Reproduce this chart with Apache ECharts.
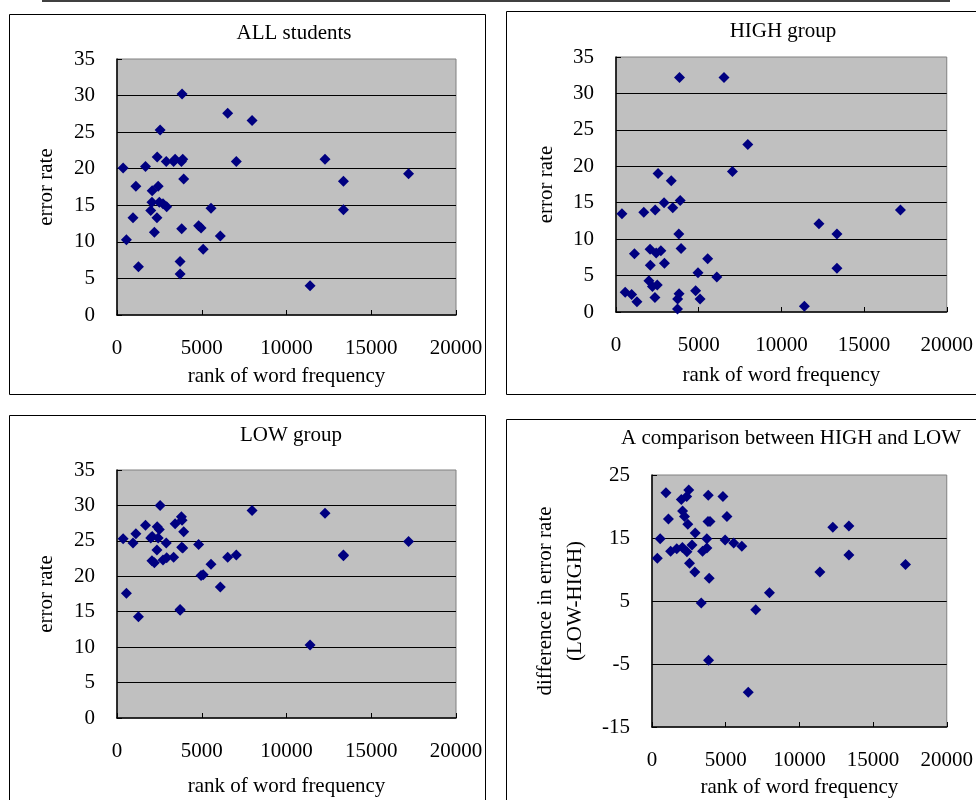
<!DOCTYPE html>
<html>
<head>
<meta charset="utf-8">
<title>error rate vs rank of word frequency</title>
<script src="https://cdn.jsdelivr.net/npm/echarts@6.0.0/dist/echarts.min.js"></script>
<style>
  html, body { margin: 0; padding: 0; background: #fff; }
  #chart { width: 976px; height: 800px; }
</style>
</head>
<body>
<div id="chart"></div>
<script>
// rank of word frequency, shared by all four panels
const rankFreq = [360, 555, 945, 1115, 1265, 1680, 1990, 2060, 2075, 2205, 2355, 2370, 2430, 2495, 2545, 2715,
  2905, 2930, 3340, 3430, 3720, 3725, 3800, 3815, 3840, 3880, 3935, 4815, 4960, 5085, 5545, 6095, 6530, 7040,
  7970, 11390, 12270, 13360, 13360, 17200];
// error rate, all students
const allRate = [20.1, 10.3, 13.3, 17.6, 6.6, 20.3, 14.3, 15.4, 17.0, 11.3, 13.3, 21.6, 17.6, 15.4, 25.3, 15.2,
  21.0, 14.8, 21.0, 21.3, 7.3, 5.6, 21.0, 11.8, 30.2, 21.3, 18.6, 12.2, 11.9, 9.0, 14.6, 10.8, 27.6, 21.0,
  26.6, 4.0, 21.3, 14.4, 18.3, 19.3];
// error rate, HIGH group
const highRate = [13.5, 2.7, 2.4, 8.0, 1.4, 13.7, 4.3, 8.6, 6.4, 3.5, 2.0, 14.0, 8.1, 3.7, 19.0, 8.4,
  15.0, 6.7, 18.0, 14.3, 0.4, 1.8, 10.7, 2.5, 32.2, 15.3, 8.7, 2.9, 5.4, 1.8, 7.3, 4.8, 32.2, 19.3,
  23.0, 0.8, 12.1, 6.0, 10.7, 14.0];
// error rate, LOW group
const lowRate = [25.3, 17.6, 24.7, 26.0, 14.3, 27.2, 25.4, 22.2, 25.6, 21.9, 23.7, 27.0, 25.4, 26.6, 30.0, 22.3,
  24.7, 22.6, 22.7, 27.4, 15.3, 15.2, 28.4, 24.1, 27.9, 24.0, 26.3, 24.5, 20.1, 20.2, 21.7, 18.5, 22.7, 23.0,
  29.3, 10.3, 28.9, 22.9, 23.0, 24.9];
// difference in error rate (LOW-HIGH)
const diffRate = [11.8, 14.9, 22.2, 18.0, 12.9, 13.3, 21.1, 13.5, 19.3, 18.4, 21.6, 12.8, 17.2, 22.6, 11.0, 13.9,
  9.6, 15.8, 4.7, 12.9, 14.9, 13.4, 17.6, 21.8, -4.4, 8.6, 17.6, 21.6, 14.7, 18.4, 14.2, 13.7, -9.5, 3.6,
  6.3, 9.6, 16.7, 16.9, 12.3, 10.8];

const panelTitles = ['ALL students', 'HIGH group', 'LOW group', 'A comparison between HIGH and LOW'];
const yNames = ['error rate', 'error rate', 'error rate', 'difference in error rate\n(LOW-HIGH)'];
const xName = 'rank of word frequency';

const FONT = 'Liberation Serif';
const FS = 21;

// plot areas
const grids = [
  { left: 117, top: 59, width: 339, height: 256 },
  { left: 616, top: 57, width: 337, height: 255 },
  { left: 117, top: 470, width: 339, height: 248 },
  { left: 652, top: 475, width: 301, height: 252 }
];
const yRanges = [[0, 35, 5], [0, 35, 5], [0, 35, 5], [-15, 25, 10]];
const yNameGaps = [56, 55, 56, 62];
const xNameGaps = [51, 53, 58, 50];

function pts(ys) {
  return rankFreq.map((x, i) => [x, ys[i]]);
}
const seriesData = [allRate, highRate, lowRate, diffRate];

const option = {
  animation: false,
  backgroundColor: '#fff',
  textStyle: { fontFamily: FONT },
  grid: grids.map(g => Object.assign({
    show: true,
    backgroundColor: '#c0c0c0',
    borderColor: '#808080',
    borderWidth: 1
  }, g)),
  xAxis: grids.map((g, i) => ({
    type: 'value',
    gridIndex: i,
    min: 0,
    max: 20000,
    interval: 5000,
    name: xName,
    nameLocation: 'middle',
    nameGap: xNameGaps[i],
    nameTextStyle: { fontFamily: FONT, fontSize: FS, color: '#000' },
    axisLine: { show: true, onZero: false, lineStyle: { color: '#000', width: 1.5 } },
    axisTick: { show: true, inside: true, length: 5, lineStyle: { color: '#000' } },
    axisLabel: { fontFamily: FONT, fontSize: FS, color: '#000', margin: 23, formatter: v => String(v) },
    splitLine: { show: false }
  })),
  yAxis: grids.map((g, i) => ({
    type: 'value',
    gridIndex: i,
    min: yRanges[i][0],
    max: yRanges[i][1],
    interval: yRanges[i][2],
    name: yNames[i],
    nameLocation: 'middle',
    nameGap: yNameGaps[i],
    nameTextStyle: { fontFamily: FONT, fontSize: FS, color: '#000', lineHeight: 30 },
    axisLine: { show: true, onZero: false, lineStyle: { color: '#000', width: 1.5 } },
    axisTick: { show: true, inside: true, length: 5, lineStyle: { color: '#000' } },
    axisLabel: { fontFamily: FONT, fontSize: FS, color: '#000', margin: 22 },
    splitLine: { show: true, showMinLine: false, showMaxLine: false, lineStyle: { color: '#000', width: 1 } }
  })),
  series: seriesData.map((ys, i) => ({
    type: 'scatter',
    xAxisIndex: i,
    yAxisIndex: i,
    symbol: 'diamond',
    symbolSize: 11,
    itemStyle: { color: '#000080', opacity: 1 },
    data: pts(ys)
  })),
  graphic: [
    // rule across the top of the page
    { type: 'line', shape: { x1: 42, y1: 1, x2: 950, y2: 1 }, style: { stroke: '#000', lineWidth: 1.5 } },
    // panel frames
    { type: 'rect', shape: { x: 9.5, y: 14.5, width: 476, height: 380 }, style: { fill: null, stroke: '#000', lineWidth: 1 }, z: -1 },
    { type: 'rect', shape: { x: 506.5, y: 11.5, width: 500, height: 383 }, style: { fill: null, stroke: '#000', lineWidth: 1 }, z: -1 },
    { type: 'rect', shape: { x: 9.5, y: 415.5, width: 476, height: 420 }, style: { fill: null, stroke: '#000', lineWidth: 1 }, z: -1 },
    { type: 'rect', shape: { x: 506.5, y: 419.5, width: 500, height: 420 }, style: { fill: null, stroke: '#000', lineWidth: 1 }, z: -1 },
    // panel titles
    { type: 'text', x: 294, y: 33, style: { text: panelTitles[0], font: FS + 'px "' + FONT + '"', fill: '#000', align: 'center', verticalAlign: 'middle' } },
    { type: 'text', x: 783, y: 31, style: { text: panelTitles[1], font: FS + 'px "' + FONT + '"', fill: '#000', align: 'center', verticalAlign: 'middle' } },
    { type: 'text', x: 291, y: 435, style: { text: panelTitles[2], font: FS + 'px "' + FONT + '"', fill: '#000', align: 'center', verticalAlign: 'middle' } },
    { type: 'text', x: 791, y: 438, style: { text: panelTitles[3], font: FS + 'px "' + FONT + '"', fill: '#000', align: 'center', verticalAlign: 'middle' } }
  ]
};

const chart = echarts.init(document.getElementById('chart'), null, { renderer: 'canvas' });
chart.setOption(option);
</script>
</body>
</html>
